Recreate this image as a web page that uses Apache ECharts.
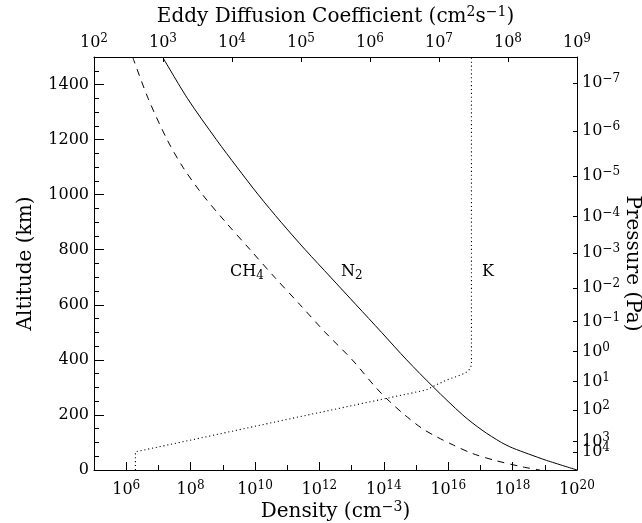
<!DOCTYPE html>
<html>
<head>
<meta charset="utf-8">
<script src="https://cdn.jsdelivr.net/npm/echarts@6/dist/echarts.min.js"></script>
<style>
html, body { margin: 0; padding: 0; background: #fff; }
#chart { width: 642px; height: 523px; }
</style>
</head>
<body>
<div id="chart"></div>
<script>
// N2 density profile: altitude (km) / log10 density (cm-3)
const altN2 = [1500, 1350, 1200, 1100, 1000, 900, 800, 700, 600, 500, 400, 300, 200, 145, 100, 80, 58, 35, 0];
const logN2 = [7.13, 7.9, 8.8, 9.44, 10.1, 10.81, 11.56, 12.35, 13.14, 13.93, 14.71, 15.55, 16.45, 17.05, 17.65, 18.0, 18.5, 19.05, 20.0];

// CH4 density profile
const altCH4 = [1500, 1350, 1200, 1100, 1000, 900, 800, 700, 600, 500, 400, 300, 250, 200, 150, 120, 90, 60, 35, 11, 0];
const logCH4 = [6.2, 6.68, 7.27, 7.76, 8.37, 9.09, 9.85, 10.61, 11.4, 12.18, 13.02, 13.75, 14.17, 14.65, 15.2, 15.65, 16.17, 16.75, 17.45, 18.32, 18.85];

// eddy diffusion coefficient K: log10 (cm2 s-1)
const altK = [0, 66, 116, 200, 291, 310, 327, 340, 352, 365, 380, 1500];
const logK = [2.6, 2.6, 3.54, 5.1, 6.82, 6.97, 7.11, 7.26, 7.38, 7.44, 7.47, 7.47];

// tick labels
const densityLabels = [6, 8, 10, 12, 14, 16, 18, 20];
const eddyLabels = [2, 3, 4, 5, 6, 7, 8, 9];
const altLabels = [0, 200, 400, 600, 800, 1000, 1200, 1400];
const pressureExp = [-7, -6, -5, -4, -3, -2, -1, 0, 1, 2, 3, 4];
const pressureAlt = [1405, 1232, 1068, 920, 787, 660, 539, 430, 321, 218, 103, 66];

const font = 'DejaVu Serif';
const ink = '#000';

const rich = {
    b: { fontFamily: font, fontSize: 16, lineHeight: 20, color: ink },
    s: { fontFamily: font, fontSize: 12, lineHeight: 11, verticalAlign: 'top', color: ink },
    u: { fontFamily: font, fontSize: 12, lineHeight: 12, verticalAlign: 'bottom', color: ink },
    n: { fontFamily: font, fontSize: 20, lineHeight: 24, color: ink },
    ns: { fontFamily: font, fontSize: 14, lineHeight: 13, verticalAlign: 'top', color: ink }
};

function pow10(e) {
    return '{b|10}{s|' + String(e).replace('-', '\u2212') + '}';
}

function pressureLabel(v) {
    return pow10(pressureExp[pressureAlt.indexOf(v)]);
}

function pairs(xs, ys) {
    return xs.map((v, i) => [v, ys[i]]);
}

function curveLabel(text, x, alt) {
    return {
        symbol: 'circle',
        symbolSize: 0,
        silent: true,
        label: { show: true, position: 'inside', formatter: text, rich: rich },
        data: [{ coord: [x, alt] }]
    };
}

const nameStyle = { color: ink, fontFamily: font, fontSize: 20, rich: rich };

const chart = echarts.init(document.getElementById('chart'));

const option = {
    animation: false,
    grid: { left: 94, right: 65, top: 57, bottom: 53, outerBoundsMode: 'none' },
    xAxis: [
        {
            type: 'value', position: 'bottom', min: 5, max: 20, interval: 1,
            axisLine: { onZero: false, lineStyle: { color: ink, width: 1 } },
            axisTick: { inside: true, length: 5, lineStyle: { color: ink } },
            axisLabel: { customValues: densityLabels, formatter: pow10, margin: 10, rich: rich },
            splitLine: { show: false },
            name: '{n|Density (cm}{ns|\u22123}{n|)}',
            nameLocation: 'middle', nameGap: 30, nameMoveOverlap: false,
            nameTextStyle: nameStyle
        },
        {
            type: 'value', position: 'top', min: 2, max: 9, interval: 1,
            axisLine: { onZero: false, lineStyle: { color: ink, width: 1 } },
            axisTick: { inside: true, length: 5, lineStyle: { color: ink } },
            axisLabel: { customValues: eddyLabels, formatter: pow10, margin: 4, rich: rich },
            splitLine: { show: false },
            name: '{n|Eddy Diffusion Coefficient (cm}{ns|2}{n|s}{ns|\u22121}{n|)}',
            nameLocation: 'middle', nameGap: 28, nameMoveOverlap: false,
            nameTextStyle: nameStyle
        },
        {
            // longer ticks at the labelled decades
            type: 'value', position: 'bottom', min: 5, max: 20,
            axisLine: { show: false, onZero: false },
            axisTick: { inside: true, length: 8, customValues: densityLabels, lineStyle: { color: ink } },
            axisLabel: { show: false },
            splitLine: { show: false }
        }
    ],
    yAxis: [
        {
            type: 'value', position: 'left', min: 0, max: 1500, interval: 50,
            axisLine: { show: true, onZero: false, lineStyle: { color: ink, width: 1 } },
            axisTick: { show: true, inside: true, length: 5, lineStyle: { color: ink } },
            axisLabel: {
                customValues: altLabels, margin: 5, color: ink, fontFamily: font, fontSize: 16,
                formatter: v => String(v)
            },
            splitLine: { show: false },
            name: 'Altitude (km)', nameLocation: 'middle', nameGap: 58, nameRotate: 90,
            nameMoveOverlap: false,
            nameTextStyle: nameStyle
        },
        {
            type: 'value', position: 'right', min: 0, max: 1500,
            axisLine: { show: true, onZero: false, lineStyle: { color: ink, width: 1 } },
            axisTick: { show: true, inside: true, length: 4, customValues: pressureAlt, lineStyle: { color: ink } },
            axisLabel: {
                customValues: pressureAlt.slice(0, -1), margin: 5, rich: rich,
                formatter: pressureLabel
            },
            splitLine: { show: false },
            name: 'Pressure (Pa)', nameLocation: 'middle', nameGap: 45, nameRotate: -90,
            nameMoveOverlap: false,
            nameTextStyle: nameStyle
        },
        {
            type: 'value', position: 'left', min: 0, max: 1500, interval: 200,
            axisLine: { show: false, onZero: false },
            axisTick: { show: true, inside: true, length: 10, lineStyle: { color: ink } },
            axisLabel: { show: false },
            splitLine: { show: false }
        },
        {
            // lowest pressure label sits on top of its neighbour, keep it on its own axis
            type: 'value', position: 'right', min: 0, max: 1500,
            axisLine: { show: false, onZero: false },
            axisTick: { show: false },
            axisLabel: {
                customValues: pressureAlt.slice(-1), margin: 5, rich: rich,
                formatter: pressureLabel
            },
            splitLine: { show: false }
        }
    ],
    series: [
        {
            type: 'line', name: 'N2', xAxisIndex: 0, yAxisIndex: 0,
            data: pairs(logN2, altN2), showSymbol: false, smooth: 0.3,
            lineStyle: { color: ink, width: 1 },
            markPoint: curveLabel('{b|N}{u|2}', 13.01, 719)
        },
        {
            type: 'line', name: 'CH4', xAxisIndex: 0, yAxisIndex: 0,
            data: pairs(logCH4, altCH4), showSymbol: false, smooth: 0.3,
            lineStyle: { color: ink, width: 1, type: [7, 6] },
            markPoint: curveLabel('{b|CH}{u|4}', 9.75, 719)
        },
        {
            type: 'line', name: 'K', xAxisIndex: 1, yAxisIndex: 0,
            data: pairs(logK, altK), showSymbol: false,
            lineStyle: { color: ink, width: 1.1, type: [1.1, 2.8] },
            markPoint: curveLabel('{b|K}', 7.71, 719)
        }
    ]
};

chart.setOption(option);
</script>
</body>
</html>
